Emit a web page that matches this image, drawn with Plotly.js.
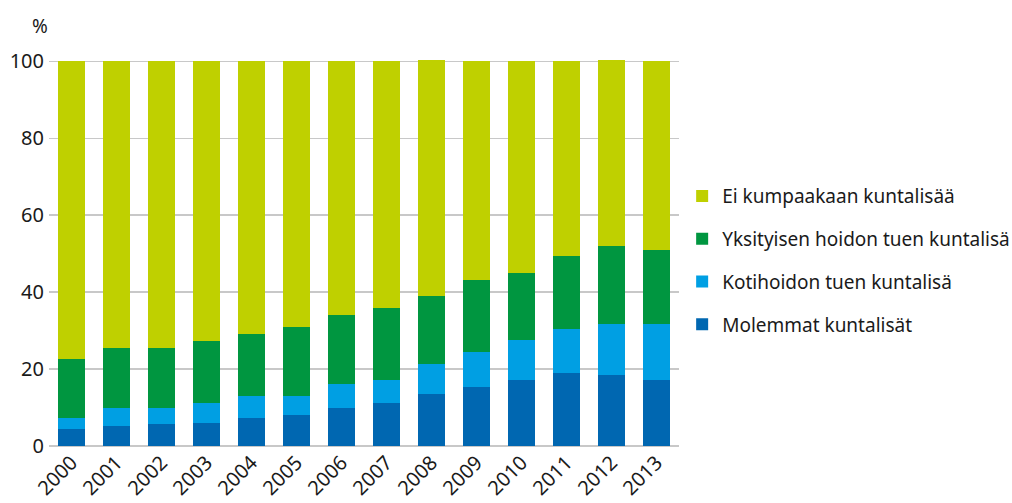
<!DOCTYPE html>
<html>
<head>
<meta charset="utf-8">
<script src="https://cdn.plot.ly/plotly-3.0.1.min.js"></script>
<style>html,body{margin:0;padding:0;background:#fff;}#chart{width:1012px;height:503px;}</style>
</head>
<body>
<div id="chart"></div>
<script>
const years = ["2000","2001","2002","2003","2004","2005","2006","2007","2008","2009","2010","2011","2012","2013"];
const molemmat = [4.3, 5.1, 5.6, 6.1, 7.4, 8.0, 9.9, 11.1, 13.4, 15.3, 17.1, 18.9, 18.4, 17.1];
const kotihoidon = [3.1, 4.8, 4.3, 5.0, 5.5, 4.9, 6.2, 6.0, 7.9, 9.1, 10.4, 11.5, 13.3, 14.6];
const yksityisen = [15.2, 15.6, 15.6, 16.2, 16.2, 18.0, 18.0, 18.8, 17.7, 18.8, 17.6, 18.9, 20.2, 19.3];
const eiKumpaakaan = [77.4, 74.5, 74.5, 72.7, 70.9, 69.1, 65.9, 64.1, 61.4, 56.8, 54.9, 50.7, 48.5, 49.0];
const yTicks = [0, 20, 40, 60, 80, 100];

const names = ["Molemmat kuntalisät", "Kotihoidon tuen kuntalisä", "Yksityisen hoidon tuen kuntalisä", "Ei kumpaakaan kuntalisää"];
const colors = ["#0067b1", "#009fe3", "#009640", "#bfd000"];
const series = [molemmat, kotihoidon, yksityisen, eiKumpaakaan];

const traces = series.map((vals, i) => ({
  type: "bar",
  x: years,
  y: vals,
  name: names[i],
  legendgroup: "g" + i,
  legendrank: 4 - i,
  marker: {color: colors[i], line: {width: 0}},
  hoverinfo: "x+y+name"
}));

const font = "'Noto Sans', 'Open Sans', sans-serif";

const layout = {
  width: 1012,
  height: 503,
  margin: {l: 49, r: 333, t: 46, b: 57, autoexpand: false},
  paper_bgcolor: "#ffffff",
  plot_bgcolor: "#ffffff",
  barmode: "stack",
  bargap: 0.4,
  font: {family: font, color: "#1a1a1a", size: 19},
  xaxis: {
    type: "category",
    tickangle: -45,
    tickfont: {size: 20, family: font, color: "#1a1a1a"},
    showgrid: false,
    showline: false,
    zeroline: false,
    ticks: "",
    fixedrange: true
  },
  yaxis: {
    range: [0, 104],
    tickvals: yTicks,
    ticktext: yTicks.map(String),
    tickfont: {size: 20, family: font, color: "#1a1a1a"},
    showgrid: true,
    gridcolor: "#c8c8c8",
    gridwidth: 1.5,
    zeroline: true,
    zerolinecolor: "#c8c8c8",
    zerolinewidth: 2.5,
    showline: false,
    ticks: "",
    ticklabelstandoff: 4,
    fixedrange: true
  },
  legend: {
    x: 1.005,
    xanchor: "left",
    y: 0.672,
    yanchor: "top",
    traceorder: "grouped",
    tracegroupgap: 15,
    font: {size: 19, family: font, color: "#1a1a1a"},
    bgcolor: "rgba(0,0,0,0)"
  },
  annotations: [{
    text: "%",
    xref: "paper",
    yref: "paper",
    x: -0.014,
    y: 1.05,
    xanchor: "center",
    yanchor: "middle",
    showarrow: false,
    font: {size: 19, family: font, color: "#1a1a1a"}
  }],
  showlegend: true
};

Plotly.newPlot("chart", traces, layout, {displayModeBar: false, staticPlot: true});
</script>
</body>
</html>
